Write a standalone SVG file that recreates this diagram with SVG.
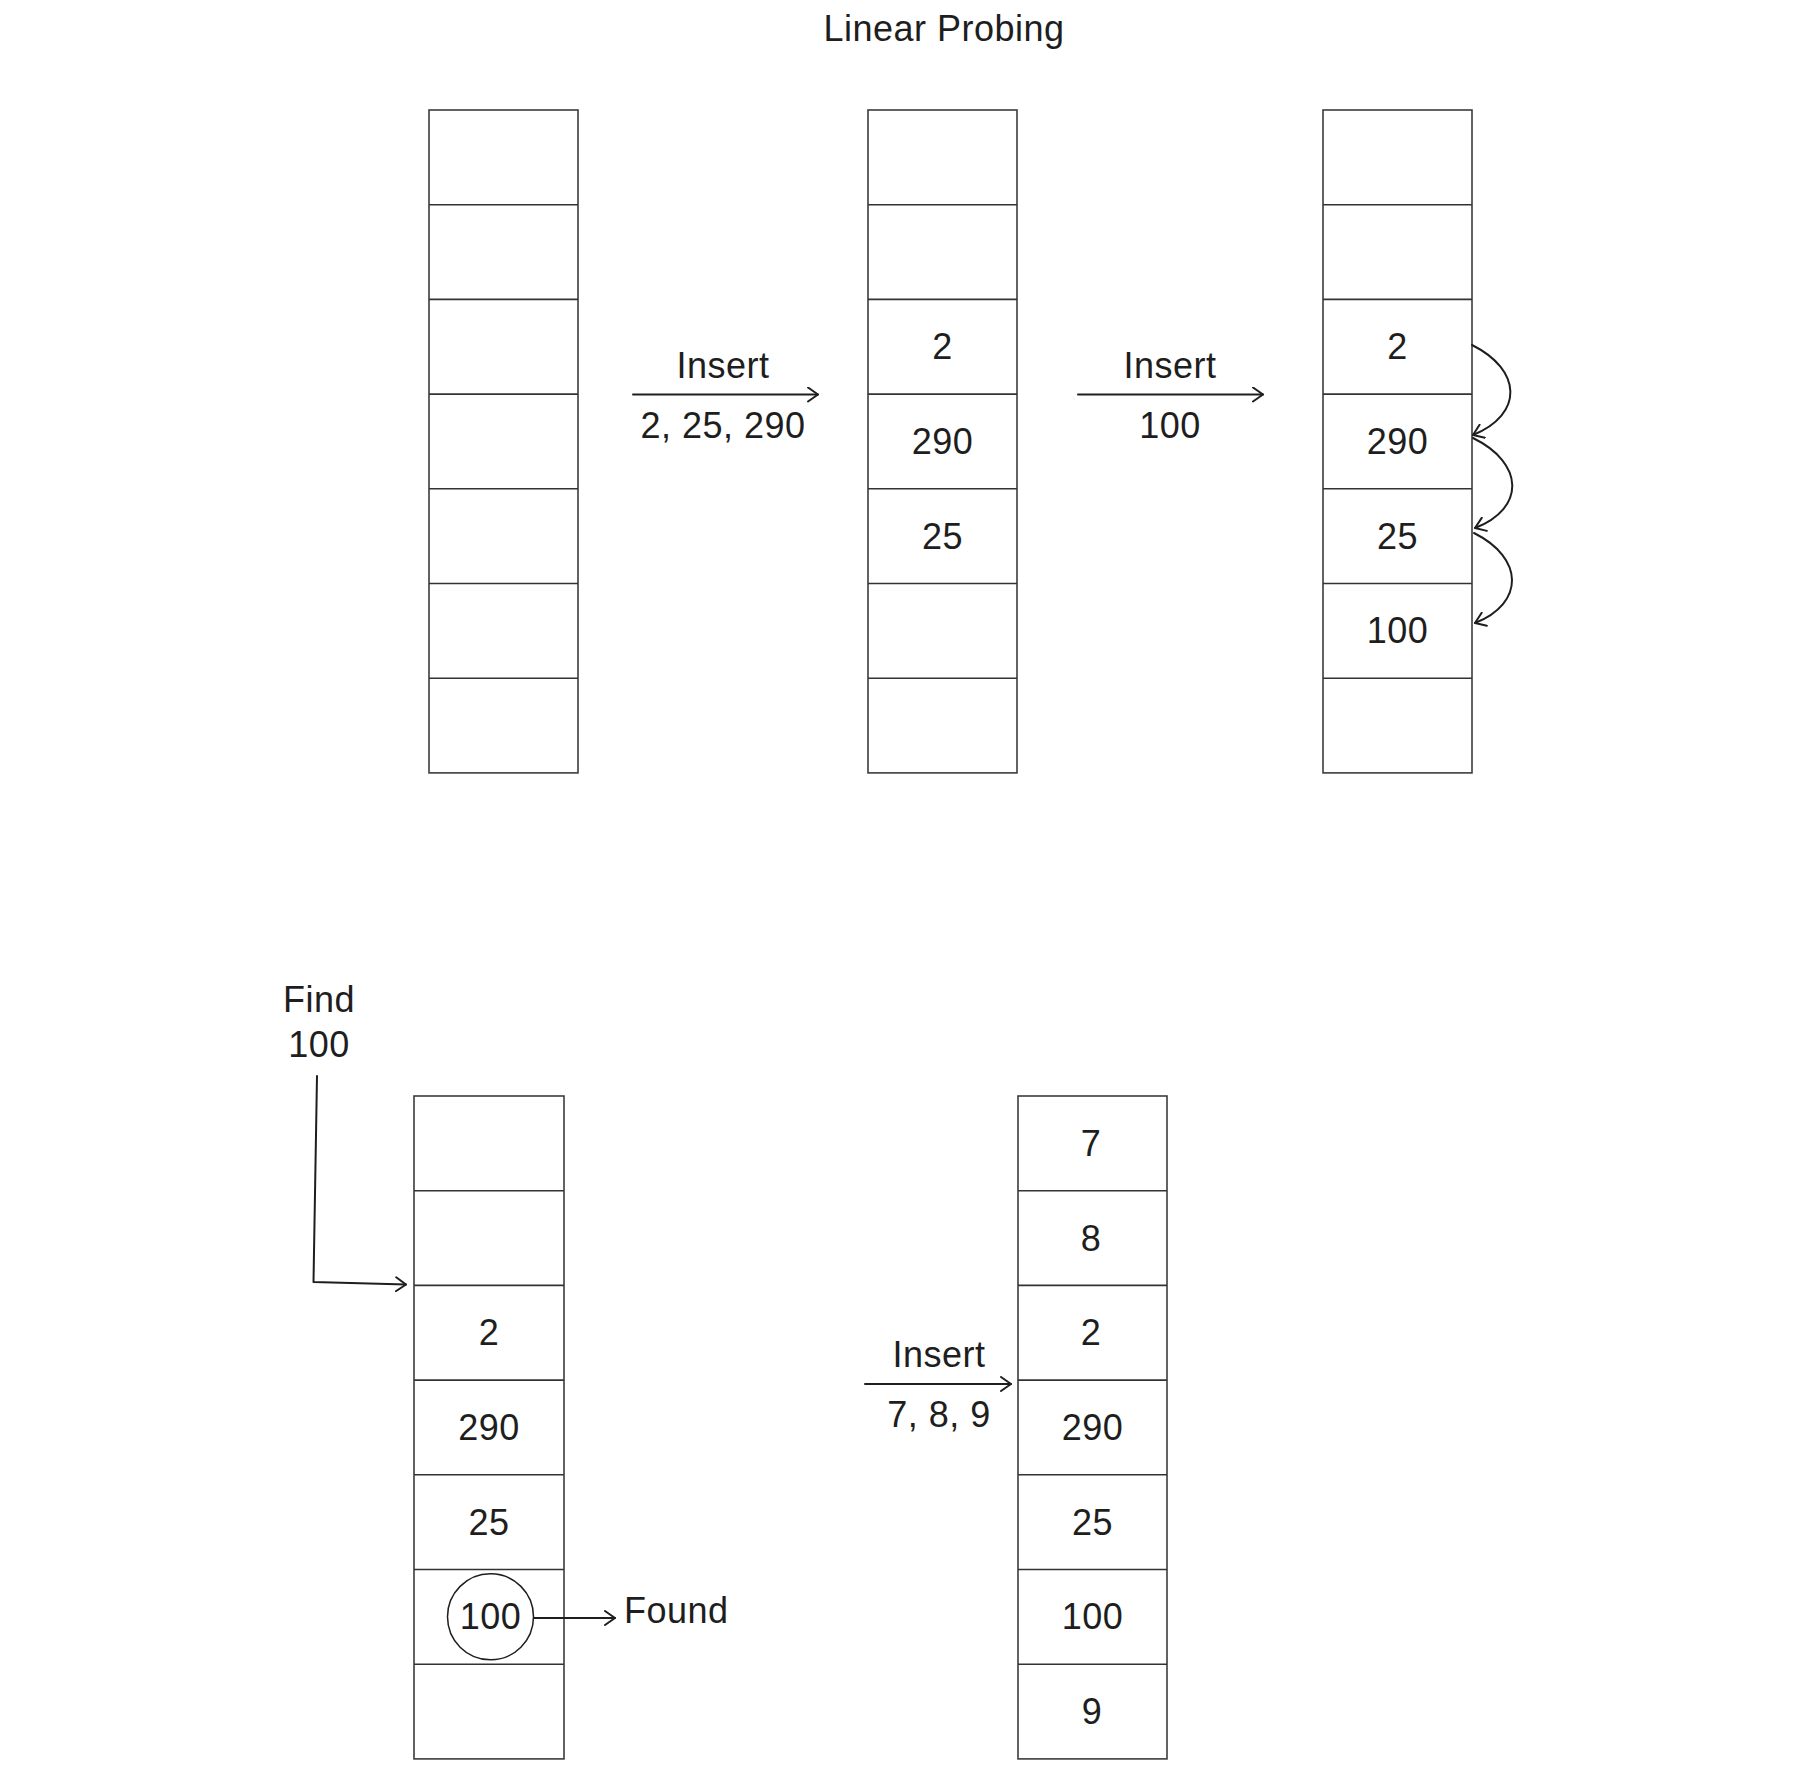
<svg xmlns="http://www.w3.org/2000/svg" width="1800" height="1768" viewBox="0 0 1800 1768">
  <style>
    .cell { fill: #ffffff; stroke: #3c3c3c; stroke-width: 1.6; }
    .sep { stroke: #333333; stroke-width: 1.6; }
    .t { font-family: "Liberation Sans", Arial, sans-serif; font-size: 36px; letter-spacing: 0.5px; fill: #1e1e1e; text-anchor: middle; }
    .tl { font-family: "Liberation Sans", Arial, sans-serif; font-size: 36px; letter-spacing: 0.5px; fill: #1e1e1e; text-anchor: start; }
    .conn { fill: none; stroke: #1e1e1e; stroke-width: 2; stroke-linecap: round; stroke-linejoin: round; }
  </style>
  <defs>
    <marker id="arrow" viewBox="0 0 12 16" refX="11" refY="8" markerWidth="12" markerHeight="16" markerUnits="userSpaceOnUse" orient="auto">
      <path d="M1,1 L11,8 L1,15" fill="none" stroke="#1e1e1e" stroke-width="2" stroke-linecap="round" stroke-linejoin="round"/>
    </marker>
  </defs>
  <rect width="1800" height="1768" fill="#ffffff"/>

  <g id="title">
    <text class="t" x="944" y="41">Linear Probing</text>
  </g>

  <!-- Table 1: empty -->
  <g id="table1">
    <rect class="cell" x="429" y="110" width="149" height="662.9"/>
    <line class="sep" x1="429" y1="204.7" x2="578" y2="204.7"/>
    <line class="sep" x1="429" y1="299.4" x2="578" y2="299.4"/>
    <line class="sep" x1="429" y1="394.1" x2="578" y2="394.1"/>
    <line class="sep" x1="429" y1="488.8" x2="578" y2="488.8"/>
    <line class="sep" x1="429" y1="583.5" x2="578" y2="583.5"/>
    <line class="sep" x1="429" y1="678.2" x2="578" y2="678.2"/>
  </g>

  <!-- Table 2 -->
  <g id="table2">
    <rect class="cell" x="868" y="110" width="149" height="662.9"/>
    <line class="sep" x1="868" y1="204.7" x2="1017" y2="204.7"/>
    <line class="sep" x1="868" y1="299.4" x2="1017" y2="299.4"/>
    <line class="sep" x1="868" y1="394.1" x2="1017" y2="394.1"/>
    <line class="sep" x1="868" y1="488.8" x2="1017" y2="488.8"/>
    <line class="sep" x1="868" y1="583.5" x2="1017" y2="583.5"/>
    <line class="sep" x1="868" y1="678.2" x2="1017" y2="678.2"/>
    <text class="t" x="942.5" y="359.3">2</text>
    <text class="t" x="942.5" y="454">290</text>
    <text class="t" x="942.5" y="548.7">25</text>
  </g>

  <!-- Table 3 -->
  <g id="table3">
    <rect class="cell" x="1323" y="110" width="149" height="662.9"/>
    <line class="sep" x1="1323" y1="204.7" x2="1472" y2="204.7"/>
    <line class="sep" x1="1323" y1="299.4" x2="1472" y2="299.4"/>
    <line class="sep" x1="1323" y1="394.1" x2="1472" y2="394.1"/>
    <line class="sep" x1="1323" y1="488.8" x2="1472" y2="488.8"/>
    <line class="sep" x1="1323" y1="583.5" x2="1472" y2="583.5"/>
    <line class="sep" x1="1323" y1="678.2" x2="1472" y2="678.2"/>
    <text class="t" x="1397.5" y="359.3">2</text>
    <text class="t" x="1397.5" y="454">290</text>
    <text class="t" x="1397.5" y="548.7">25</text>
    <text class="t" x="1397.5" y="643.4">100</text>
  </g>

  <!-- Table 4 (find) -->
  <g id="table4">
    <rect class="cell" x="414" y="1096" width="150" height="662.9"/>
    <line class="sep" x1="414" y1="1190.7" x2="564" y2="1190.7"/>
    <line class="sep" x1="414" y1="1285.4" x2="564" y2="1285.4"/>
    <line class="sep" x1="414" y1="1380.1" x2="564" y2="1380.1"/>
    <line class="sep" x1="414" y1="1474.8" x2="564" y2="1474.8"/>
    <line class="sep" x1="414" y1="1569.5" x2="564" y2="1569.5"/>
    <line class="sep" x1="414" y1="1664.2" x2="564" y2="1664.2"/>
    <text class="t" x="489" y="1345.3">2</text>
    <text class="t" x="489" y="1440">290</text>
    <text class="t" x="489" y="1534.7">25</text>
    <text class="t" x="490.5" y="1629.4">100</text>
  </g>
  <g id="found-circle">
    <circle cx="490.5" cy="1616.8" r="43" fill="none" stroke="#1e1e1e" stroke-width="1.5"/>
  </g>

  <!-- Table 5 -->
  <g id="table5">
    <rect class="cell" x="1018" y="1096" width="149" height="662.9"/>
    <line class="sep" x1="1018" y1="1190.7" x2="1167" y2="1190.7"/>
    <line class="sep" x1="1018" y1="1285.4" x2="1167" y2="1285.4"/>
    <line class="sep" x1="1018" y1="1380.1" x2="1167" y2="1380.1"/>
    <line class="sep" x1="1018" y1="1474.8" x2="1167" y2="1474.8"/>
    <line class="sep" x1="1018" y1="1569.5" x2="1167" y2="1569.5"/>
    <line class="sep" x1="1018" y1="1664.2" x2="1167" y2="1664.2"/>
    <text class="t" x="1091" y="1155.9">7</text>
    <text class="t" x="1091" y="1250.6">8</text>
    <text class="t" x="1091" y="1345.3">2</text>
    <text class="t" x="1092.5" y="1440">290</text>
    <text class="t" x="1092.5" y="1534.7">25</text>
    <text class="t" x="1092.5" y="1629.4">100</text>
    <text class="t" x="1092" y="1724.1">9</text>
  </g>

  <!-- Labels -->
  <g id="label-insert1">
    <text class="t" x="723" y="378">Insert</text>
    <text class="t" x="723" y="438">2, 25, 290</text>
  </g>
  <g id="label-insert2">
    <text class="t" x="1170" y="378">Insert</text>
    <text class="t" x="1170" y="438">100</text>
  </g>
  <g id="label-find">
    <text class="t" x="319" y="1012">Find</text>
    <text class="t" x="319" y="1057">100</text>
  </g>
  <g id="label-found">
    <text class="tl" x="624" y="1623">Found</text>
  </g>
  <g id="label-insert3">
    <text class="t" x="939" y="1367">Insert</text>
    <text class="t" x="939" y="1427">7, 8, 9</text>
  </g>

  <!-- Connectors -->
  <g id="connectors">
    <line class="conn" x1="633" y1="394.5" x2="818" y2="394.5" marker-end="url(#arrow)"/>
    <line class="conn" x1="1078" y1="394.5" x2="1263" y2="394.5" marker-end="url(#arrow)"/>
    <path class="conn" d="M1472,345 C1522,370 1524,414 1473,435" marker-end="url(#arrow)"/>
    <path class="conn" d="M1473,438 C1524,463 1526,508 1475,528" marker-end="url(#arrow)"/>
    <path class="conn" d="M1474,533 C1524,558 1525,603 1475,623" marker-end="url(#arrow)"/>
    <path class="conn" d="M317,1076 L313.5,1282 L406,1284.5" marker-end="url(#arrow)"/>
    <line class="conn" x1="534" y1="1618" x2="615" y2="1618" marker-end="url(#arrow)"/>
    <line class="conn" x1="865" y1="1384" x2="1011" y2="1384" marker-end="url(#arrow)"/>
  </g>
</svg>
